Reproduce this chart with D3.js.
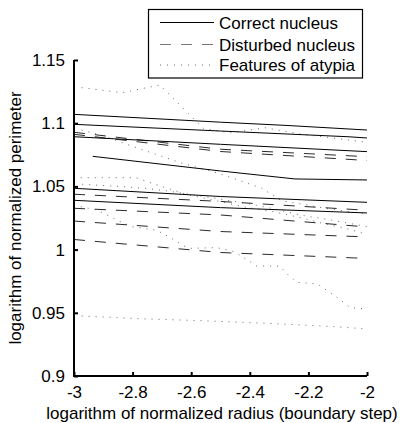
<!DOCTYPE html>
<html><head><meta charset="utf-8">
<script src="https://cdn.jsdelivr.net/npm/d3@7"></script>
<style>
html,body{margin:0;padding:0;background:#fff;}
svg{display:block;}
text{font-family:"Liberation Sans",Arial,Helvetica,sans-serif;fill:#000;}
</style></head>
<body>
<svg id="chart" width="401" height="423"></svg>
<script>
// ---- data ----
const xTicks = [-3, -2.8, -2.6, -2.4, -2.2, -2];
const yTicks = [0.9, 0.95, 1, 1.05, 1.1, 1.15];
const xDomain = [-3, -2];
const yDomain = [0.9, 1.15];
const legendLabels = ["Correct nucleus", "Disturbed nucleus", "Features of atypia"];

const correctNucleus = [
  [[-3, 1.1070], [-2.5, 1.1008], [-2.28, 1.0983], [-2, 1.0946]],
  [[-3, 1.0991], [-2.5, 1.0938], [-2.065, 1.0893], [-2, 1.0883]],
  [[-3, 1.0893], [-2.5, 1.0833], [-2, 1.0775]],
  [[-2.936, 1.0738], [-2.5, 1.0622], [-2.246, 1.0559], [-2, 1.0551]],
  [[-3, 1.0485], [-2.5, 1.0420], [-2, 1.0374]],
  [[-3, 1.0390], [-2.5, 1.0332], [-2, 1.0290]]
];

const disturbedNucleus = [
  [[-3, 1.0928], [-2.5, 1.0794], [-2, 1.0735]],
  [[-3, 1.0912], [-2.5, 1.0776], [-2, 1.0705]],
  [[-3, 1.0438], [-2.5, 1.0381], [-2, 1.0311]],
  [[-3, 1.0327], [-2.5, 1.0274], [-2, 1.0179]],
  [[-3, 1.0226], [-2.5, 1.0143], [-2, 1.0100]],
  [[-3, 1.0080], [-2.5, 0.9977], [-2, 0.9930]]
];

const featuresOfAtypia = [
  [[-2.974, 1.1281], [-2.837, 1.1241], [-2.707, 1.1302], [-2.559, 1.0960], [-2.468, 1.0923],
   [-2.348, 1.0964], [-2.229, 1.0915], [-2, 1.0849]],
  [[-2.974, 1.0946], [-2.9, 1.0901], [-2.820, 1.0833], [-2.741, 1.0770], [-2.638, 1.0688],
   [-2.513, 1.0608], [-2.433, 1.0545], [-2.359, 1.0485], [-2.291, 1.0385], [-2.223, 1.0361],
   [-2.143, 1.0327], [-2.035, 1.0292], [-2, 1.0282]],
  [[-2.977, 1.0569], [-2.789, 1.0569], [-2.710, 1.0506], [-2.608, 1.0432], [-2.511, 1.0385],
   [-2.422, 1.0339], [-2.320, 1.0300], [-2.217, 1.0248], [-2.160, 1.0213], [-2.075, 1.0169],
   [-2, 1.0121]],
  [[-2.972, 1.0517], [-2.835, 1.0498], [-2.758, 1.0485], [-2.682, 1.0464], [-2.608, 1.0438],
   [-2.502, 1.0400], [-2.399, 1.0361], [-2.314, 1.0321], [-2.229, 1.0274], [-2.143, 1.0242],
   [-2.075, 1.0214], [-2, 1.0181]],
  [[-2.977, 1.0339], [-2.921, 1.0313], [-2.846, 1.0226], [-2.801, 1.0181], [-2.718, 1.0153],
   [-2.670, 1.0094], [-2.625, 1.0029], [-2.602, 1.0010], [-2.522, 1.0015], [-2.495, 1.0009],
   [-2.451, 0.9981], [-2.399, 0.9904], [-2.377, 0.9870], [-2.299, 0.9870], [-2.263, 0.9786],
   [-2.240, 0.9741], [-2.189, 0.9733], [-2.164, 0.9720], [-2.098, 0.9615], [-2.056, 0.9540],
   [-2, 0.9530]],
  [[-2.974, 0.9475], [-2.775, 0.9453], [-2.570, 0.9438], [-2.343, 0.9417], [-2.114, 0.9391],
   [-2, 0.9372]]
];

// ---- layout ----
const W = 401, H = 423;
const plot = {left: 74, right: 367, top: 60, bottom: 376};
const FS = 17;

const svg = d3.select("#chart");
const x = d3.scaleLinear().domain(xDomain).range([plot.left, plot.right]);
const y = d3.scaleLinear().domain(yDomain).range([plot.bottom, plot.top]);

const styles = {
  solid: {stroke: "#000", dash: null, width: 1},
  dashed: {stroke: "#2a2a2a", dash: "11,10", width: 1},
  dotted: {stroke: "#6a6a6a", dash: "1,6", width: 1}
};

const line = d3.line().x(d => x(d[0])).y(d => y(d[1]));

function drawGroup(data, st, cls) {
  svg.append("g").attr("class", cls)
    .selectAll("path").data(data).join("path")
    .attr("d", line)
    .attr("fill", "none")
    .attr("stroke", st.stroke)
    .attr("stroke-width", st.width)
    .attr("stroke-dasharray", st.dash);
}
drawGroup(featuresOfAtypia, styles.dotted, "dotted");
drawGroup(disturbedNucleus, styles.dashed, "dashed");
drawGroup(correctNucleus, styles.solid, "solid");

// ---- axes ----
const fmt = d => String(+d.toFixed(2));
const xAxis = d3.axisBottom(x).tickValues(xTicks).tickFormat(fmt)
  .tickSizeInner(-4).tickSizeOuter(0).tickPadding(10);
const yAxis = d3.axisLeft(y).tickValues(yTicks).tickFormat(fmt)
  .tickSizeInner(-4).tickSizeOuter(0).tickPadding(9);

const gx = svg.append("g").attr("transform", `translate(0,${plot.bottom})`).call(xAxis);
const gy = svg.append("g").attr("transform", `translate(${plot.left},0)`).call(yAxis);
[gx, gy].forEach(g => {
  g.select(".domain").attr("stroke", "#000").attr("stroke-width", 2);
  g.selectAll(".tick line").attr("stroke", "#000").attr("stroke-width", 2);
  g.selectAll(".tick text").attr("font-size", FS)
    .attr("font-family", '"Liberation Sans",Arial,Helvetica,sans-serif').attr("fill", "#000");
});
gx.select(".domain").attr("d", `M${plot.left - 1},0H${plot.right}`);
gy.select(".domain").attr("d", `M0,${plot.top}V${plot.bottom + 1}`);

svg.append("text")
  .attr("x", 222).attr("y", 418.5)
  .attr("text-anchor", "middle").attr("font-size", FS)
  .text("logarithm of normalized radius (boundary step)");

svg.append("text")
  .attr("transform", `translate(21,${(plot.top + plot.bottom) / 2}) rotate(-90)`)
  .attr("text-anchor", "middle").attr("font-size", FS)
  .text("logarithm of normalized perimeter");

// ---- legend ----
const lg = svg.append("g");
lg.append("rect")
  .attr("x", 148.5).attr("y", 9.5).attr("width", 214).attr("height", 68.5)
  .attr("fill", "#fff").attr("stroke", "#000").attr("stroke-width", 1.2);
const legendStyles = [styles.solid, styles.dashed, styles.dotted];
const legendY = [22.5, 44.5, 65];
legendLabels.forEach((lab, i) => {
  const st = legendStyles[i];
  lg.append("line")
    .attr("x1", 160).attr("x2", 214)
    .attr("y1", legendY[i]).attr("y2", legendY[i])
    .attr("stroke", i === 1 ? "#777" : st.stroke)
    .attr("stroke-width", 1)
    .attr("stroke-dasharray", st.dash);
  lg.append("text")
    .attr("x", 219).attr("y", legendY[i] + 6)
    .attr("font-size", FS)
    .text(lab);
});
</script>
</body></html>
